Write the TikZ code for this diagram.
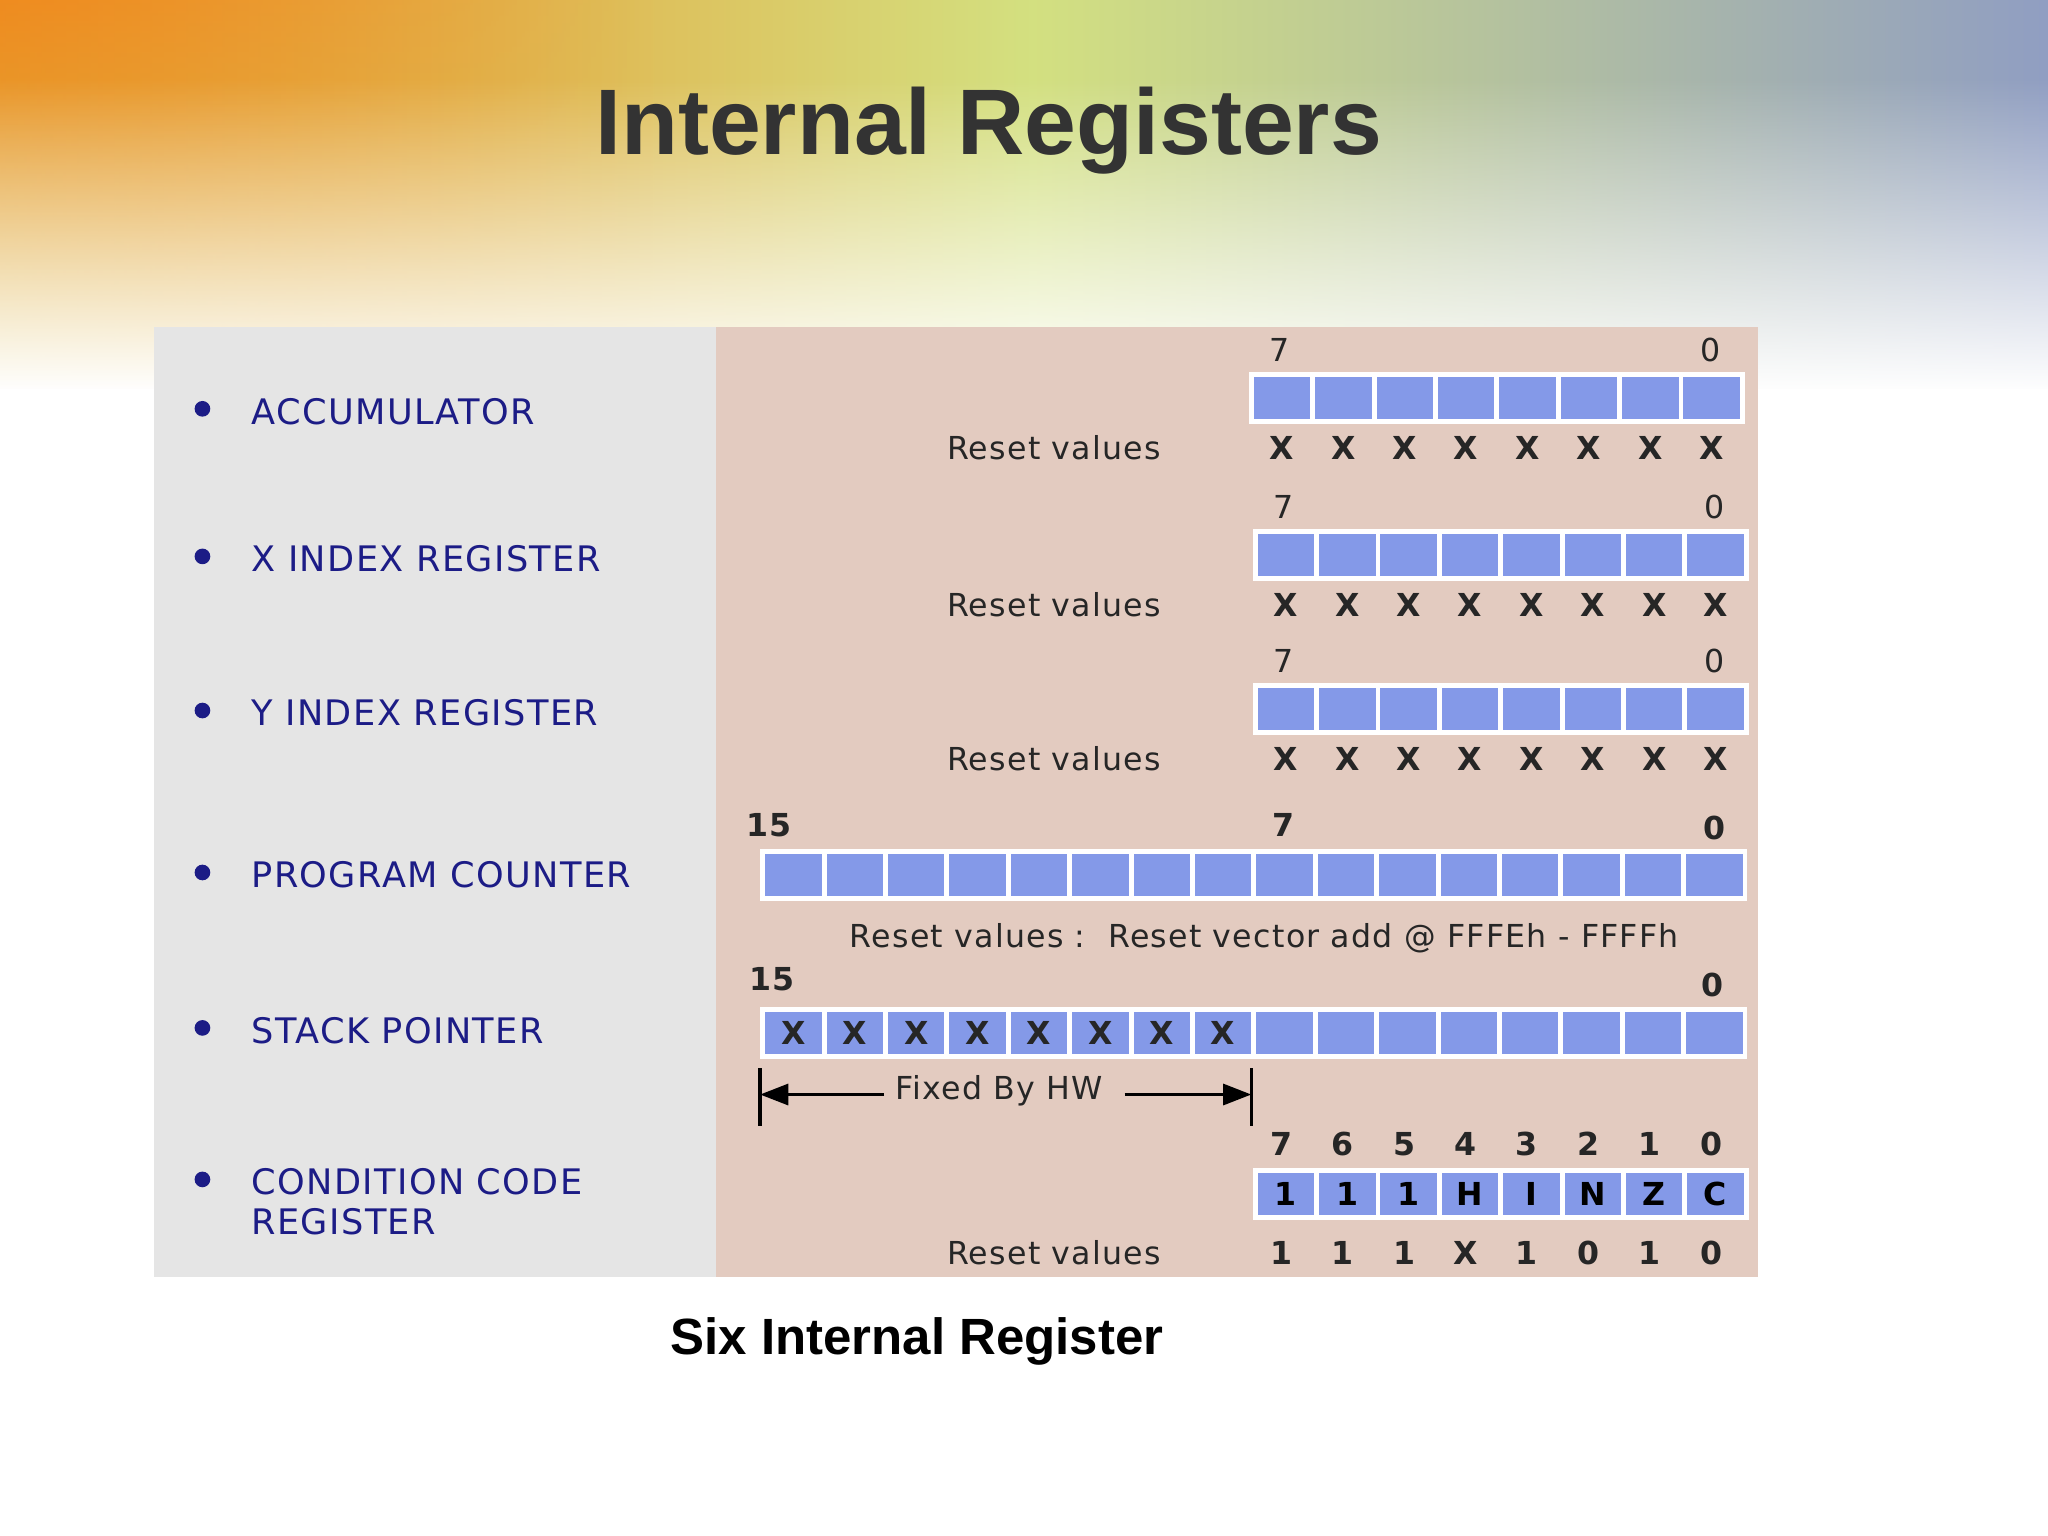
\documentclass[tikz,border=0pt]{standalone}
\usepackage{fontspec}
\setmainfont{Liberation Sans}
\newfontfamily\regfont[LetterSpace=4]{DejaVu Sans}
\usetikzlibrary{fadings,arrows.meta}
\definecolor{cellblue}{HTML}{8499E8}
\definecolor{pinkbg}{HTML}{E3CBC0}
\definecolor{graybg}{HTML}{E5E5E5}
\definecolor{navy}{HTML}{1C1C86}
\definecolor{titlegray}{HTML}{333333}
\definecolor{bgorange}{HTML}{F08A1E}
\definecolor{bggreen}{HTML}{C8D860}
\definecolor{bgblue}{HTML}{8E9CC4}
\newlength\pxu
\setlength\pxu{0.013061cm}
\tikzset{
  cell/.style={draw=white,line width=1.4pt,fill=cellblue,minimum width=47*\pxu,minimum height=36*\pxu,inner sep=0pt,font=\regfont\bfseries\fontsize{9}{9}\selectfont,text=black},
  lbl/.style={font=\regfont\fontsize{9}{9}\selectfont,text=black!85,inner sep=0pt},
  blbl/.style={font=\regfont\bfseries\fontsize{9}{9}\selectfont,text=black!85,inner sep=0pt},
  item/.style={font=\regfont\fontsize{10}{11.5}\selectfont,text=navy,anchor=west,inner sep=0pt,align=left},
  bul/.style={circle,fill=navy,inner sep=0pt,minimum size=12*\pxu},
}
\begin{document}
\begin{tikzpicture}[x=\pxu,y=-\pxu]
\useasboundingbox (0,0) rectangle (1568,1176);
\fill[white] (0,0) rectangle (1568,1176);
% top gradient
\shade[left color=bgorange, right color=bgblue, middle color=bggreen!80!white] (-10,-10) rectangle (1590,300);
\shade[top color=bgorange, bottom color=bggreen, opacity=0.6, path fading=east] (-10,-10) rectangle (500,300);
\fill[white,path fading=north] (-10,60) rectangle (1590,300);
\fill[white] (-10,298) rectangle (1590,1190);
\node[font=\bfseries\fontsize{26.5}{26.5}\selectfont,text=titlegray] (title) at (757,100) {Internal Registers};
% panels
\fill[graybg] (118,250) rectangle (548,978);
\fill[pinkbg] (548,250) rectangle (1346,978);
% list
\foreach \y/\t/\n in {315/ACCUMULATOR/a,428/X INDEX REGISTER/b,546/Y INDEX REGISTER/c,670/PROGRAM COUNTER/d,789/STACK POINTER/e}{
  \node[bul] (bul\n) at (155,\y-2) {};
  \node[item] (it\n) at (192,\y) {\t};
}
\node[bul] (bulf) at (155,905-2) {};
\node[item] (itf) at (192,920) {CONDITION CODE\\REGISTER};
% 8-bit registers
\foreach \r/\x/\y in {1/958/305,2/961/425,3/961/543}{
  \foreach \i in {0,...,7}{
    \node[cell] (r\r c\i) at (\x+23.5+47*\i,\y) {};
    \node[blbl] (r\r x\i) at (\x+23.5+47*\i,\y+38) {X};
  }
  \node[lbl] (r\r h7) at (\x+22,\y-37) {7};
  \node[lbl] (r\r h0) at (\x+352,\y-37) {0};
  \node[lbl] (r\r rv) at (807,\y+38) {Reset values};
}
% PC
\foreach \i in {0,...,15}{ \node[cell] (pc\i) at (584+23.5+47*\i,670) {}; }
\node[blbl] (pch15) at (589,632) {15};
\node[blbl] (pch7) at (983,632) {7};
\node[blbl] (pch0) at (1313,634) {0};
\node[lbl] (pcrv) at (968,718) {Reset values :\ \ Reset vector add @ FFFEh - FFFFh};
% SP
\foreach \i in {0,...,15}{ \node[cell] (sp\i) at (584+23.5+47*\i,791) {}; }
\foreach \i in {0,...,7}{ \node[blbl] (spx\i) at (584+23.5+47*\i,791) {X}; }
\node[blbl] (sph15) at (591,750) {15};
\node[blbl] (sph0) at (1311,754) {0};
\coordinate (fl) at (582,838);
\coordinate (fr) at (958,838);
\draw[line width=1pt] (582,818) -- (582,862);
\draw[line width=1pt] (958,818) -- (958,862);
\node[lbl] (fixed) at (765,835) {Fixed By HW};
\draw[line width=0.8pt,-{Triangle[length=8pt,width=6pt]}] (fixed.west) ++(-8,3) -- (fl);
\draw[line width=0.8pt,-{Triangle[length=8pt,width=6pt]}] (fixed.east) ++(16,3) -- (fr);
% CCR
\foreach \i/\t/\b/\v in {0/1/7/1,1/1/6/1,2/1/5/1,3/H/4/X,4/I/3/1,5/N/2/0,6/Z/1/1,7/C/0/0}{
  \node[cell] (cc\i) at (961+23.5+47*\i,914) {\t};
  \node[blbl] (ccb\i) at (961+20+47*\i,876) {\b};
  \node[blbl] (ccv\i) at (961+20+47*\i,959) {\v};
}
\node[lbl] (ccrv) at (807,959) {Reset values};
\node[font=\bfseries\fontsize{14.5}{14.5}\selectfont] (cap) at (702,1027) {Six Internal Register};
\end{tikzpicture}
\end{document}
